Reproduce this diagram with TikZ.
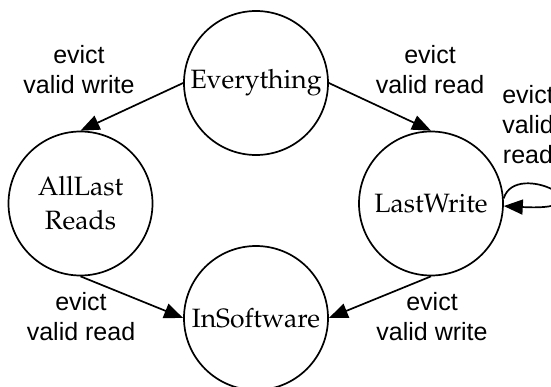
\documentclass[tikz,border=0pt]{standalone}
\usepackage[T1]{fontenc}
\usepackage{fontspec}
\newfontfamily\labfont{Liberation Sans}
\usetikzlibrary{arrows.meta}
\newcommand{\statefont}{\fontencoding{T1}\fontfamily{ppl}\fontsize{26.5}{31}\selectfont}
\tikzset{
  statenode/.style={circle, draw, line width=1.7pt, minimum size=144pt, inner sep=0pt,
    align=center, font=\statefont},
  lab/.style={align=center, inner sep=0pt, anchor=base, font=\labfont\fontsize{25}{30}\selectfont},
  arr/.style={line width=1.7pt, -{Triangle[length=19pt,width=15pt]}}
}
\begin{document}
\begin{tikzpicture}[x=1pt,y=-1pt]
\useasboundingbox (0,0) rectangle (551,386);
\node[statenode] (E) at (256,83) {Everything};
\node[statenode] (A) at (80.5,203.5) {AllLast\\[3pt]Reads};
\node[statenode] (L) at (431,203.5) {LastWrite};
\node[statenode] (I) at (256,318) {InSoftware};

\node[lab] (l1) at (79,93) {evict\\valid write};
\node[lab] (l2) at (430,93) {evict\\valid read};
\node[lab] (l3) at (528,163) {evict\\valid\\read};
\node[lab] (l4) at (81,340) {evict\\valid read};
\node[lab] (l5) at (432,340) {evict\\valid write};

\draw[arr] (E.west) -- (A.north);
\draw[arr] (E.east) -- (L.north);
\draw[arr] (A.south) -- (I.west);
\draw[arr] (L.south) -- (I.east);
\draw[arr] (L.4) .. controls (516,158) and (615,212) .. (L.-2);
\end{tikzpicture}
\end{document}
